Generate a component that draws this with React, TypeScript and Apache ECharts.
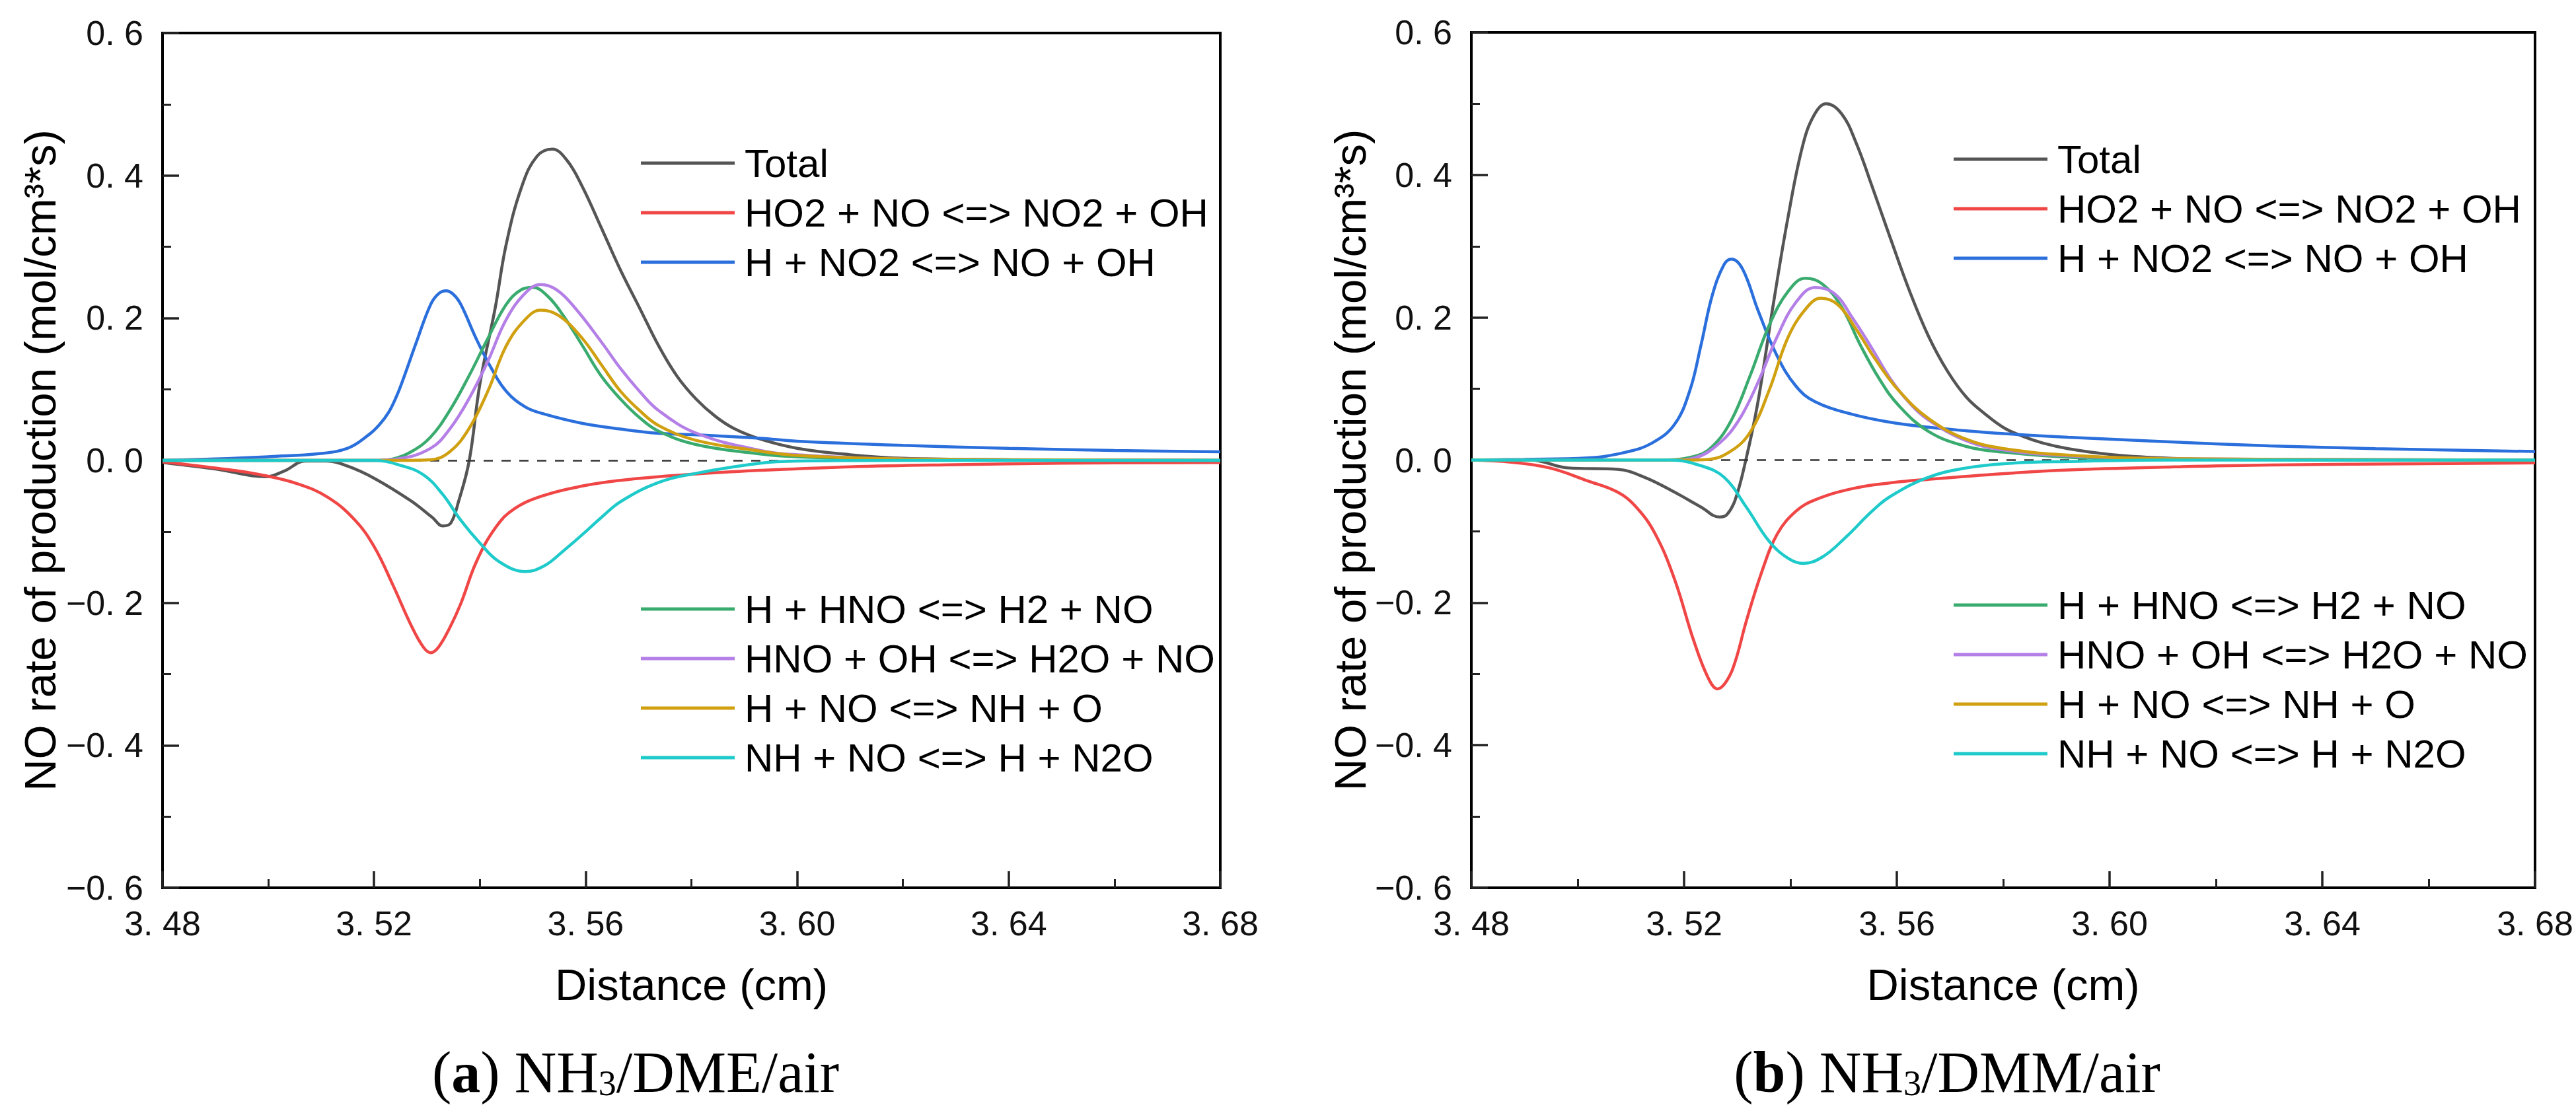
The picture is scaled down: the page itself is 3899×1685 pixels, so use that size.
import { useEffect, useRef } from "react";
import * as echarts from "echarts";

type Pt = [number, number];

const seriesNames = [
  "Total",
  "HO2 + NO <=> NO2 + OH",
  "H + NO2 <=> NO + OH",
  "H + HNO <=> H2 + NO",
  "HNO + OH <=> H2O + NO",
  "H + NO <=> NH + O",
  "NH + NO <=> H + N2O",
];
const seriesColors = ["#555555", "#f04646", "#2a6fdc", "#3aab6e", "#b47fe6", "#d0a010", "#1ecaca"];

const xTicks = [3.48, 3.52, 3.56, 3.6, 3.64, 3.68];
const yTicks = [-0.6, -0.4, -0.2, 0, 0.2, 0.4, 0.6];

// (a) NH3/DME/air
const totalA: Pt[] = [
  [3.48, -0.003], [3.49, -0.012], [3.4995, -0.023], [3.503, -0.015], [3.507, -0.001], [3.511, -0.001],
  [3.515, -0.008], [3.52, -0.025], [3.527, -0.057], [3.531, -0.08], [3.533, -0.092], [3.5345, -0.088],
  [3.536, -0.057], [3.538, 0], [3.54, 0.107], [3.5429, 0.214], [3.545, 0.304], [3.5479, 0.384],
  [3.5508, 0.427], [3.5537, 0.437], [3.5565, 0.421], [3.5594, 0.384], [3.563, 0.326], [3.5666, 0.267],
  [3.5702, 0.214], [3.5738, 0.161], [3.5773, 0.118], [3.5809, 0.086], [3.5845, 0.062], [3.588, 0.045],
  [3.593, 0.03], [3.6, 0.017], [3.61, 0.008], [3.62, 0.003], [3.64, 0.001], [3.68, 0],
];
const redA: Pt[] = [
  [3.48, -0.002], [3.4913, -0.012], [3.4984, -0.02], [3.5056, -0.033], [3.5113, -0.052], [3.5164, -0.084],
  [3.52, -0.121], [3.5235, -0.174], [3.5271, -0.233], [3.5293, -0.262], [3.5307, -0.27], [3.5322, -0.262],
  [3.5343, -0.235], [3.5364, -0.201], [3.5393, -0.143], [3.5429, -0.095], [3.5465, -0.068], [3.5522, -0.049],
  [3.5594, -0.036], [3.5666, -0.028], [3.5738, -0.023], [3.581, -0.019], [3.593, -0.014], [3.61, -0.009],
  [3.63, -0.006], [3.65, -0.004], [3.68, -0.003],
];
const blueA: Pt[] = [
  [3.48, 0], [3.49, 0.002], [3.502, 0.006], [3.509, 0.009], [3.515, 0.017], [3.519, 0.036], [3.521, 0.05],
  [3.5228, 0.068], [3.5243, 0.091], [3.5257, 0.118], [3.528, 0.166], [3.5307, 0.219], [3.5322, 0.234],
  [3.5336, 0.238], [3.535, 0.233], [3.5364, 0.219], [3.5393, 0.171], [3.5422, 0.129], [3.545, 0.097],
  [3.5486, 0.075], [3.5522, 0.065], [3.5594, 0.052], [3.5666, 0.044], [3.5738, 0.038], [3.581, 0.036],
  [3.593, 0.031], [3.6, 0.027], [3.62, 0.021], [3.64, 0.017], [3.66, 0.014], [3.68, 0.012],
];
const greenA: Pt[] = [
  [3.48, 0], [3.52, 0], [3.5235, 0.002], [3.527, 0.012], [3.5307, 0.033], [3.5343, 0.07], [3.5379, 0.118],
  [3.5415, 0.171], [3.545, 0.219], [3.5479, 0.24], [3.55, 0.243], [3.5529, 0.23], [3.5558, 0.203],
  [3.5594, 0.161], [3.563, 0.118], [3.5666, 0.086], [3.5702, 0.06], [3.5738, 0.041], [3.581, 0.022],
  [3.593, 0.009], [3.6, 0.005], [3.62, 0.001], [3.68, 0],
];
const purpleA: Pt[] = [
  [3.48, 0], [3.52, 0], [3.5245, 0.002], [3.5307, 0.017], [3.5343, 0.044], [3.5379, 0.086], [3.5415, 0.139],
  [3.545, 0.198], [3.5486, 0.235], [3.5515, 0.247], [3.5544, 0.24], [3.558, 0.214], [3.563, 0.166],
  [3.5666, 0.129], [3.5702, 0.097], [3.5738, 0.07], [3.581, 0.038], [3.593, 0.014], [3.6, 0.008],
  [3.62, 0.002], [3.68, 0],
];
const goldA: Pt[] = [
  [3.48, 0], [3.525, 0], [3.5307, 0.001], [3.5343, 0.012], [3.5379, 0.044], [3.5415, 0.097], [3.545, 0.161],
  [3.5486, 0.198], [3.5515, 0.211], [3.555, 0.203], [3.5594, 0.171], [3.563, 0.134], [3.5666, 0.097],
  [3.5702, 0.07], [3.5738, 0.049], [3.581, 0.028], [3.593, 0.013], [3.6, 0.007], [3.62, 0.002], [3.68, 0],
];
const cyanA: Pt[] = [
  [3.48, 0], [3.52, 0], [3.525, -0.007], [3.5293, -0.02], [3.5329, -0.047], [3.5364, -0.084], [3.54, -0.116],
  [3.5436, -0.142], [3.5486, -0.156], [3.5522, -0.148], [3.5558, -0.127], [3.5594, -0.104], [3.563, -0.08],
  [3.5666, -0.058], [3.5738, -0.031], [3.581, -0.018], [3.593, -0.004], [3.6, -0.001], [3.62, 0], [3.68, 0],
];

// (b) NH3/DMM/air
const totalB: Pt[] = [
  [3.48, 0], [3.4911, 0], [3.4982, -0.011], [3.5075, -0.013], [3.5125, -0.024], [3.5182, -0.045],
  [3.5232, -0.066], [3.5267, -0.08], [3.528, -0.077], [3.5296, -0.056], [3.5317, 0.003], [3.5339, 0.082],
  [3.5367, 0.215], [3.5396, 0.343], [3.5424, 0.444], [3.5446, 0.486], [3.5467, 0.5], [3.5496, 0.486],
  [3.5524, 0.444], [3.5553, 0.385], [3.5588, 0.311], [3.5624, 0.237], [3.566, 0.173], [3.5695, 0.125],
  [3.5731, 0.088], [3.5767, 0.064], [3.5802, 0.045], [3.5838, 0.033], [3.5874, 0.024], [3.5922, 0.016],
  [3.6, 0.008], [3.61, 0.003], [3.62, 0.001], [3.68, 0],
];
const redB: Pt[] = [
  [3.48, 0], [3.4875, -0.003], [3.4947, -0.011], [3.5018, -0.029], [3.5075, -0.045], [3.511, -0.066],
  [3.5146, -0.104], [3.5182, -0.167], [3.5218, -0.253], [3.5245, -0.305], [3.5263, -0.321], [3.528, -0.31],
  [3.5296, -0.283], [3.5317, -0.226], [3.5346, -0.157], [3.5375, -0.104], [3.541, -0.072], [3.5446, -0.056],
  [3.5517, -0.04], [3.5588, -0.032], [3.566, -0.027], [3.5802, -0.019], [3.5922, -0.014], [3.61, -0.01],
  [3.63, -0.007], [3.68, -0.004],
];
const blueB: Pt[] = [
  [3.48, 0], [3.49, 0.001], [3.5018, 0.003], [3.509, 0.011], [3.514, 0.024], [3.5182, 0.05], [3.5211, 0.098],
  [3.5232, 0.162], [3.5253, 0.231], [3.5275, 0.274], [3.5289, 0.282], [3.531, 0.268], [3.5339, 0.21],
  [3.5375, 0.146], [3.541, 0.104], [3.5446, 0.082], [3.5517, 0.064], [3.5588, 0.053], [3.566, 0.046],
  [3.5731, 0.041], [3.5802, 0.037], [3.5922, 0.032], [3.61, 0.026], [3.63, 0.02], [3.65, 0.016], [3.68, 0.012],
];
const greenB: Pt[] = [
  [3.48, 0], [3.515, 0], [3.5218, 0.005], [3.5253, 0.019], [3.5289, 0.056], [3.5325, 0.12], [3.536, 0.189],
  [3.5396, 0.237], [3.5428, 0.255], [3.546, 0.247], [3.5496, 0.215], [3.5531, 0.162], [3.5567, 0.114],
  [3.5603, 0.077], [3.566, 0.04], [3.5731, 0.019], [3.5802, 0.011], [3.5922, 0.004], [3.61, 0.001], [3.68, 0],
];
const purpleB: Pt[] = [
  [3.48, 0], [3.518, 0], [3.522, 0.003], [3.5267, 0.024], [3.5303, 0.056], [3.5339, 0.109], [3.5375, 0.173],
  [3.541, 0.221], [3.5446, 0.242], [3.5482, 0.234], [3.5517, 0.199], [3.5553, 0.157], [3.5588, 0.114],
  [3.5624, 0.08], [3.566, 0.056], [3.5731, 0.027], [3.5802, 0.014], [3.5922, 0.006], [3.61, 0.002], [3.68, 0],
];
const goldB: Pt[] = [
  [3.48, 0], [3.52, 0], [3.5246, 0.001], [3.5289, 0.013], [3.5325, 0.04], [3.536, 0.098], [3.5396, 0.173],
  [3.5432, 0.215], [3.5457, 0.227], [3.5489, 0.218], [3.5524, 0.183], [3.556, 0.141], [3.5603, 0.098],
  [3.566, 0.058], [3.5731, 0.029], [3.5802, 0.016], [3.5922, 0.007], [3.61, 0.002], [3.68, 0],
];
const cyanB: Pt[] = [
  [3.48, 0], [3.5175, 0], [3.5232, -0.008], [3.5275, -0.024], [3.5317, -0.066], [3.536, -0.114],
  [3.5396, -0.138], [3.5424, -0.145], [3.546, -0.136], [3.5503, -0.109], [3.5553, -0.072], [3.5588, -0.051],
  [3.566, -0.024], [3.5731, -0.011], [3.5802, -0.005], [3.5922, -0.002], [3.61, 0], [3.68, 0],
];

const panelA = [totalA, redA, blueA, greenA, purpleA, goldA, cyanA];
const panelB = [totalB, redB, blueB, greenB, purpleB, goldB, cyanB];

const SANS = "Liberation Sans";
const SERIF = "Liberation Serif";

const fmtX = (v: number) => v.toFixed(2).replace(".", ". ");
const fmtY = (v: number) => (v < -1e-9 ? "\u2212" : "") + Math.abs(v).toFixed(1).replace(".", ". ");

const App = () => {
  const chartRef = useRef<HTMLDivElement>(null);

  useEffect(() => {
    document.body.style.margin = "0";
    if (!chartRef.current) return;
    const chart = echarts.init(chartRef.current, undefined, { renderer: "svg" });

    const grids = [
      { left: 246, top: 50, width: 1601, height: 1294 },
      { left: 2227, top: 49, width: 1610, height: 1295 },
    ];
    const yNameGaps = [152, 149];

    const xAxes = grids.map((_, i) => ({
      type: "value",
      gridIndex: i,
      min: xTicks[0],
      max: xTicks[xTicks.length - 1],
      interval: 0.04,
      name: "Distance (cm)",
      nameLocation: "middle",
      nameGap: 113,
      nameTextStyle: { fontFamily: SANS, fontSize: 67, color: "#000" },
      axisLine: { show: true, onZero: false, lineStyle: { color: "#000", width: 4 } },
      axisTick: { show: true, inside: true, length: 25, lineStyle: { color: "#222", width: 3.5 } },
      minorTick: { show: true, splitNumber: 2, length: 13, lineStyle: { color: "#222", width: 3 } },
      axisLabel: { fontFamily: SANS, fontSize: 52, color: "#111", margin: 28, formatter: fmtX },
      splitLine: { show: false },
    }));

    const yAxes = grids.map((_, i) => ({
      type: "value",
      gridIndex: i,
      min: yTicks[0],
      max: yTicks[yTicks.length - 1],
      interval: 0.2,
      name: "NO rate of production (mol/cm\u00b3*s)",
      nameLocation: "middle",
      nameGap: yNameGaps[i],
      nameTextStyle: { fontFamily: SANS, fontSize: 67, color: "#000" },
      axisLine: { show: true, onZero: false, lineStyle: { color: "#000", width: 4 } },
      axisTick: { show: true, inside: true, length: 25, lineStyle: { color: "#222", width: 3.5 } },
      minorTick: { show: true, splitNumber: 2, length: 13, lineStyle: { color: "#222", width: 3 } },
      axisLabel: { fontFamily: SANS, fontSize: 52, color: "#111", margin: 29, formatter: fmtY },
      splitLine: { show: false },
    }));

    const series: any[] = [];
    [panelA, panelB].forEach((panel, p) => {
      panel.forEach((data, k) => {
        series.push({
          id: `${p}-${k}`,
          name: seriesNames[k],
          type: "line",
          xAxisIndex: p,
          yAxisIndex: p,
          data,
          smooth: 0.4,
          showSymbol: false,
          symbol: "none",
          lineStyle: { color: seriesColors[k], width: 4.5 },
          itemStyle: { color: seriesColors[k] },
          z: 2 + k,
          markLine:
            k === 0
              ? {
                  silent: true,
                  symbol: "none",
                  label: { show: false },
                  lineStyle: { color: "#333", width: 2.5, type: [14, 13] },
                  data: [{ yAxis: 0 }],
                }
              : undefined,
        });
      });
    });

    const legendBase = {
      orient: "vertical",
      icon: "rect",
      itemWidth: 142,
      itemHeight: 5,
      itemGap: 15,
      selectedMode: false,
      textStyle: { fontFamily: SANS, fontSize: 60, lineHeight: 60, color: "#000", padding: [0, 0, 0, 10] },
    };
    const legends = [
      { ...legendBase, left: 965, top: 212, data: seriesNames.slice(0, 3) },
      { ...legendBase, left: 965, top: 887, data: seriesNames.slice(3) },
      { ...legendBase, left: 2952, top: 206, data: seriesNames.slice(0, 3) },
      { ...legendBase, left: 2952, top: 881, data: seriesNames.slice(3) },
    ];

    const captionRich = {
      p: { fontFamily: SERIF, fontSize: 88, color: "#000" },
      b: { fontFamily: SERIF, fontSize: 88, fontWeight: "bold", color: "#000" },
      s: { fontFamily: SERIF, fontSize: 54, color: "#000", verticalAlign: "bottom" },
    };
    const captions = [
      { x: 962, label: "DME", tag: "a" },
      { x: 2947, label: "DMM", tag: "b" },
    ].map((c) => ({
      type: "text",
      x: c.x,
      y: 1623,
      style: {
        text: `{p|(}{b|${c.tag}}{p|) NH}{s|3}{p|/${c.label}/air}`,
        rich: captionRich,
        align: "center",
        verticalAlign: "middle",
      },
    }));

    chart.setOption({
      animation: false,
      backgroundColor: "#fff",
      grid: grids.map((g) => ({ ...g, show: true, borderColor: "#000", borderWidth: 4, backgroundColor: "transparent" })),
      xAxis: xAxes,
      yAxis: yAxes,
      legend: legends,
      series,
      graphic: captions,
    });

    return () => {
      chart.dispose();
    };
  }, []);

  return <div ref={chartRef} style={{ width: 3899, height: 1685 }} />;
};

export default App;
